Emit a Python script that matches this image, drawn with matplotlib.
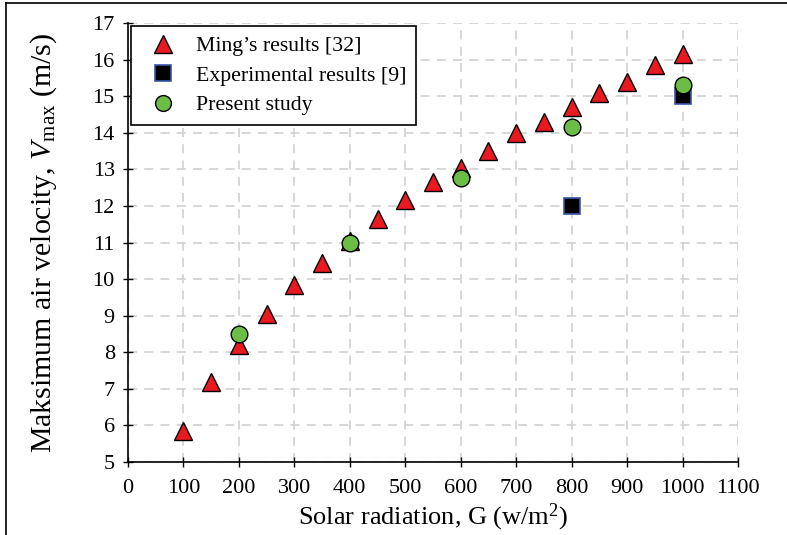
import matplotlib
matplotlib.use("Agg")
import matplotlib.pyplot as plt
from matplotlib.lines import Line2D

plt.rcParams['font.family'] = ['Liberation Serif', 'DejaVu Serif']
plt.rcParams['mathtext.fontset'] = 'custom'
plt.rcParams['mathtext.rm'] = 'Liberation Serif'
plt.rcParams['mathtext.it'] = 'Liberation Serif:italic'

ming_x = [100, 150, 200, 250, 300, 350, 400, 450, 500, 550, 600, 650, 700, 750, 800, 850, 900, 950, 1000]
ming_y = [5.85, 7.2, 8.2, 9.05, 9.85, 10.45, 11.05, 11.65, 12.15, 12.65, 13.05, 13.5, 14.0, 14.3, 14.7, 15.1, 15.4, 15.85, 16.15]
exp_x = [800, 1000]
exp_y = [12.0, 15.0]
pres_x = [200, 400, 600, 800, 1000]
pres_y = [8.5, 11.0, 12.75, 14.15, 15.3]

xticks = list(range(0, 1101, 100))
yticks = list(range(5, 18))

fig = plt.figure(figsize=(7.87, 5.35), dpi=100)
ax = fig.add_axes([0.1626, 0.1364, 0.7751, 0.8206])

ax.plot(ming_x, ming_y, linestyle='none', marker='^', markersize=13.5,
        markerfacecolor='#e8191f', markeredgecolor='black', markeredgewidth=1.0,
        label="Ming\u2019s results [32]", zorder=3)
ax.plot(exp_x, exp_y, linestyle='none', marker='s', markersize=12,
        markerfacecolor='black', markeredgecolor='#3a56a8', markeredgewidth=1.2,
        label="Experimental results [9]", zorder=4)
ax.plot(pres_x, pres_y, linestyle='none', marker='o', markersize=12,
        markerfacecolor='#6cbd45', markeredgecolor='black', markeredgewidth=1.0,
        label="Present study", zorder=5)

ax.set_xlim(0, 1100)
ax.set_ylim(5, 17)
ax.set_xticks(xticks)
ax.set_yticks(yticks)
ax.tick_params(axis='both', labelsize=16, direction='inout', length=7, width=1, colors='black')
ax.tick_params(axis='x', pad=9)
ax.tick_params(axis='y', pad=6)
ax.grid(True, color='#d4d4d4', linestyle=(0, (5, 4)), linewidth=1.3)
ax.set_axisbelow(True)
for s in ['top', 'right']:
    ax.spines[s].set_visible(False)
for s in ['left', 'bottom']:
    ax.spines[s].set_linewidth(1.2)

ax.set_xlabel("Solar radiation, G (w/m$^2$)", fontsize=19, labelpad=2)
ax.set_ylabel("Maksimum air velocity, $V_{\\mathrm{max}}$ (m/s)", fontsize=21.5, labelpad=24)

leg = ax.legend(loc='upper left', fontsize=15.7, frameon=True, fancybox=False,
                edgecolor='black', framealpha=1, borderpad=0.45, handletextpad=0.5,
                labelspacing=0.42, borderaxespad=0.15, markerscale=0.95)
leg.get_frame().set_linewidth(1.2)

fig.add_artist(Line2D([6/787, 1], [1 - 3/535, 1 - 3/535], color='black', linewidth=1.2,
                      transform=fig.transFigure))
fig.add_artist(Line2D([6/787, 6/787], [0, 1 - 3/535], color='black', linewidth=1.2,
                      transform=fig.transFigure))

fig.savefig("out.png", dpi=100)
